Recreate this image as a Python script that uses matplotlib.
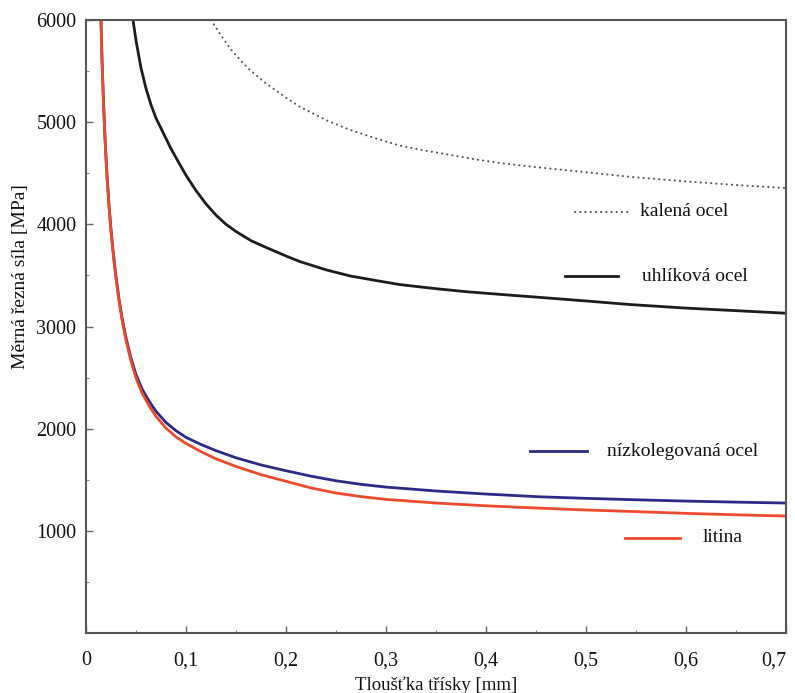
import matplotlib
matplotlib.use("Agg")
import matplotlib.pyplot as plt
from matplotlib.ticker import MultipleLocator, FixedLocator, FuncFormatter

# ---- data ----
x_kalena = [0.125, 0.135, 0.145, 0.155, 0.164, 0.180, 0.200, 0.214, 0.240, 0.264, 0.290, 0.314,
            0.340, 0.364, 0.390, 0.414, 0.450, 0.500, 0.544, 0.600, 0.650, 0.700]
y_kalena = [6000, 5850, 5710, 5600, 5510, 5380, 5240, 5150, 5020, 4925, 4840, 4770,
            4720, 4680, 4635, 4600, 4560, 4510, 4465, 4420, 4385, 4355]

x_uhlik = [0.047, 0.050, 0.055, 0.060, 0.065, 0.070, 0.077, 0.085, 0.093, 0.100, 0.110, 0.120,
           0.130, 0.140, 0.150, 0.165, 0.181, 0.200, 0.214, 0.240, 0.264, 0.290, 0.314, 0.350,
           0.381, 0.420, 0.447, 0.500, 0.544, 0.600, 0.650, 0.700]
y_uhlik = [6000, 5800, 5530, 5330, 5170, 5040, 4900, 4740, 4600, 4480, 4330, 4200,
           4090, 4000, 3930, 3840, 3770, 3690, 3635, 3555, 3495, 3450, 3410, 3370,
           3340, 3310, 3290, 3250, 3215, 3180, 3155, 3130]

x_nizko = [0.015, 0.016, 0.0175, 0.019, 0.021, 0.023, 0.025, 0.0275, 0.030, 0.033, 0.036, 0.040,
           0.045, 0.050, 0.056, 0.063, 0.070, 0.080, 0.090, 0.100, 0.115, 0.130, 0.150, 0.175,
           0.200, 0.225, 0.250, 0.275, 0.300, 0.350, 0.400, 0.454, 0.500, 0.550, 0.600, 0.650, 0.700]
y_nizko = [6000, 5620, 5200, 4850, 4480, 4190, 3950, 3700, 3490, 3270, 3090, 2890,
           2690, 2530, 2390, 2270, 2170, 2060, 1980, 1915, 1845, 1785, 1715, 1645,
           1588, 1535, 1490, 1455, 1428, 1390, 1360, 1333, 1318, 1304, 1291, 1281, 1272]

x_litina = [0.015, 0.016, 0.0175, 0.019, 0.021, 0.023, 0.025, 0.0275, 0.030, 0.033, 0.036, 0.040,
            0.045, 0.050, 0.056, 0.063, 0.070, 0.080, 0.090, 0.100, 0.115, 0.130, 0.150, 0.175,
            0.200, 0.225, 0.250, 0.275, 0.300, 0.350, 0.400, 0.454, 0.500, 0.550, 0.600, 0.650, 0.700]
y_litina = [6000, 5600, 5180, 4830, 4460, 4170, 3930, 3680, 3470, 3250, 3065, 2865,
            2660, 2495, 2350, 2225, 2120, 2005, 1920, 1855, 1775, 1705, 1630, 1550,
            1485, 1420, 1370, 1335, 1308, 1272, 1245, 1222, 1204, 1188, 1171, 1157, 1145]

labels = ["kalená ocel", "uhlíková ocel", "nízkolegovaná ocel", "litina"]
x_ticks = [0, 0.1, 0.2, 0.3, 0.4, 0.5, 0.6, 0.7]
y_ticks = [1000, 2000, 3000, 4000, 5000, 6000]

# label sample positions (data coords)
leg_y = [4121, 3494, 1781, 930]
leg_x0 = [0.489, 0.479, 0.444, 0.539]
leg_x1 = [0.542, 0.532, 0.501, 0.594]
leg_tx = [0.554, 0.556, 0.521, 0.617]

c_black = "#1c1c1c"
c_blue = "#2c2a84"
c_red = "#ec4a2c"
c_dot = "#555555"

plt.rcParams["font.family"] = ["Liberation Serif", "DejaVu Serif"]

fig = plt.figure(figsize=(7.95, 6.93), dpi=100)
ax = fig.add_axes([86/795, 60/693, 700/795, 613/693])

dot_style = dict(color=c_dot, lw=1.5, linestyle=(0, (0.1, 2.4)), dash_capstyle="round")
ax.plot(x_kalena, y_kalena, **dot_style)
ax.plot(x_uhlik, y_uhlik, color=c_black, lw=2.0, solid_joinstyle="round")
ax.plot(x_nizko, y_nizko, color=c_blue, lw=2.0, solid_joinstyle="round")
ax.plot(x_litina, y_litina, color=c_red, lw=2.0, solid_joinstyle="round")

styles = [dot_style,
          dict(color=c_black, lw=2.0),
          dict(color=c_blue, lw=2.0),
          dict(color=c_red, lw=2.0)]
for lab, yy, a, b, tx, st in zip(labels, leg_y, leg_x0, leg_x1, leg_tx, styles):
    ax.plot([a, b], [yy, yy], **st)
    ax.text(tx, yy, lab, fontsize=14, va="center", ha="left", color="#111111")

ax.set_xlim(0, 0.7)
ax.set_ylim(0, 6000)
ax.xaxis.set_major_locator(FixedLocator(x_ticks))
ax.xaxis.set_minor_locator(MultipleLocator(0.05))
ax.yaxis.set_major_locator(FixedLocator(y_ticks))
ax.yaxis.set_minor_locator(MultipleLocator(500))
ax.xaxis.set_major_formatter(FuncFormatter(lambda v, p: ("%g" % round(v, 2)).replace(".", ",")))
ax.yaxis.set_major_formatter(FuncFormatter(lambda v, p: "%d" % v))

ax.tick_params(axis="both", which="major", direction="in", length=5, width=1, color="#666666",
               labelsize=14.5, labelcolor="#111111")
ax.tick_params(axis="x", which="major", pad=13)
ax.tick_params(axis="y", which="major", pad=7)
ax.tick_params(axis="both", which="minor", direction="in", length=2.5, width=0.8, color="#888888")

for s in ax.spines.values():
    s.set_color("#555555")
    s.set_linewidth(1.5)

ax.set_ylabel("Měrná řezná síla [MPa]", fontsize=14, labelpad=3, color="#111111")
ax.yaxis.set_label_coords(-0.081, 0.582)
ax.set_xlabel("Tloušťka třísky [mm]", fontsize=13.5, labelpad=5, color="#111111")

fig.canvas.draw()
xt = ax.get_xticklabels()
xt[-1].set_horizontalalignment("right")
xt[-1].set_x(0.7)

fig.savefig("out.png", dpi=100)
